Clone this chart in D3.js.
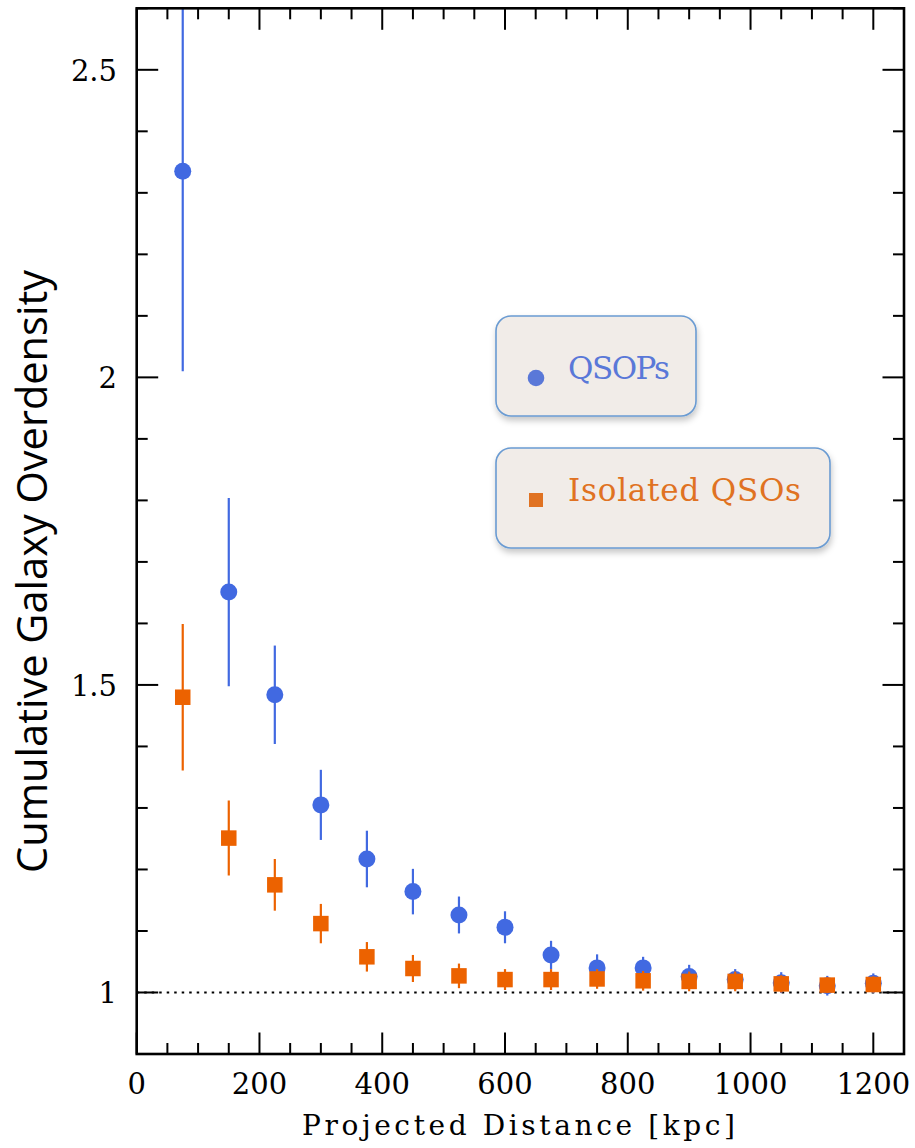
<!DOCTYPE html>
<html>
<head>
<meta charset="utf-8">
<script src="https://cdn.jsdelivr.net/npm/d3@7"></script>
<style>
  html, body { margin: 0; padding: 0; background: #ffffff; }
  svg { display: block; }
</style>
</head>
<body>
<svg id="chart" width="915" height="1148"></svg>
<script>
// Projected distance bins [kpc]
const distances = [75, 150, 225, 300, 375, 450, 525, 600, 675, 750, 825, 900, 975, 1050, 1125, 1200];

// Cumulative galaxy overdensity around quasar pairs and its 1-sigma error
const qsopValues = [2.335, 1.651, 1.484, 1.305, 1.217, 1.164, 1.126, 1.106, 1.061, 1.040, 1.040, 1.026, 1.021, 1.016, 1.011, 1.015];
const qsopErrors = [0.325, 0.153, 0.080, 0.057, 0.046, 0.037, 0.030, 0.026, 0.023, 0.022, 0.018, 0.019, 0.017, 0.017, 0.016, 0.016];

// Same quantity around isolated quasars
const isoValues = [1.480, 1.251, 1.175, 1.112, 1.058, 1.039, 1.027, 1.021, 1.021, 1.022, 1.019, 1.018, 1.018, 1.014, 1.012, 1.013];
const isoErrors = [0.119, 0.061, 0.042, 0.032, 0.024, 0.022, 0.020, 0.017, 0.017, 0.016, 0.016, 0.016, 0.016, 0.014, 0.013, 0.013];

// Axis ticks
const xMajorTicks = [0, 200, 400, 600, 800, 1000, 1200];
const xMinorTicks = d3.range(0, 1251, 50);
const yMajorTicks = [1, 1.5, 2, 2.5];
const yMinorTicks = d3.range(9, 27).map(d => d / 10);
const yTickLabels = ["1", "1.5", "2", "2.5"];

// Legend entries
const legendLabels = ["QSOPs", "Isolated QSOs"];

const blue = "#4169e1";
const orange = "#ec6200";

const svg = d3.select("#chart");
const W = 915, H = 1148;
const pLeft = 136.7, pRight = 904, pTop = 8.3, pBottom = 1054;

const x = d3.scaleLinear().domain([0, 1250]).range([pLeft, pRight]);
const y = d3.scaleLinear().domain([0.9, 2.6]).range([pBottom, pTop]);

svg.append("rect").attr("width", W).attr("height", H).attr("fill", "#fff");

const defs = svg.append("defs");
defs.append("clipPath").attr("id", "plot-clip")
  .append("rect").attr("x", pLeft).attr("y", pTop)
  .attr("width", pRight - pLeft).attr("height", pBottom - pTop);

const shadow = defs.append("filter").attr("id", "legend-shadow")
  .attr("x", "-20%").attr("y", "-20%").attr("width", "140%").attr("height", "150%");
shadow.append("feDropShadow")
  .attr("dx", 1).attr("dy", 4).attr("stdDeviation", 3)
  .attr("flood-color", "#000").attr("flood-opacity", 0.22);

// Reference line at unit overdensity
svg.append("line")
  .attr("x1", pLeft).attr("x2", pRight)
  .attr("y1", y(1)).attr("y2", y(1))
  .attr("stroke", "#000").attr("stroke-width", 2)
  .attr("stroke-dasharray", "2.5,5");

const plot = svg.append("g").attr("clip-path", "url(#plot-clip)");

const qsop = distances.map((d, i) => ({ x: d, v: qsopValues[i], e: qsopErrors[i] }));
const iso = distances.map((d, i) => ({ x: d, v: isoValues[i], e: isoErrors[i] }));

// QSOPs: error bars and filled circles
plot.append("g").selectAll("line").data(qsop).join("line")
  .attr("x1", d => x(d.x)).attr("x2", d => x(d.x))
  .attr("y1", d => y(d.v + d.e)).attr("y2", d => y(d.v - d.e))
  .attr("stroke", blue).attr("stroke-width", 2.2);
plot.append("g").selectAll("circle").data(qsop).join("circle")
  .attr("cx", d => x(d.x)).attr("cy", d => y(d.v)).attr("r", 8.5)
  .attr("fill", blue);

// Isolated QSOs: error bars and filled squares
plot.append("g").selectAll("line").data(iso).join("line")
  .attr("x1", d => x(d.x)).attr("x2", d => x(d.x))
  .attr("y1", d => y(d.v + d.e)).attr("y2", d => y(d.v - d.e))
  .attr("stroke", orange).attr("stroke-width", 2.2);
const sq = 15.5;
plot.append("g").selectAll("rect").data(iso).join("rect")
  .attr("x", d => x(d.x) - sq / 2).attr("y", d => y(d.v) - sq / 2)
  .attr("width", sq).attr("height", sq)
  .attr("fill", orange);

// Frame
svg.append("rect")
  .attr("x", pLeft).attr("y", pTop)
  .attr("width", pRight - pLeft).attr("height", pBottom - pTop)
  .attr("fill", "none").attr("stroke", "#000").attr("stroke-width", 2.6);

// Inward ticks on all four sides
const majLen = 21.5, minLen = 11;
const tg = svg.append("g").attr("stroke", "#000").attr("stroke-width", 2);
const isMajorX = v => xMajorTicks.includes(v);
const isMajorY = v => yMajorTicks.some(t => Math.abs(t - v) < 1e-9);

xMinorTicks.forEach(v => {
  const L = isMajorX(v) ? majLen : minLen;
  tg.append("line").attr("x1", x(v)).attr("x2", x(v)).attr("y1", pBottom).attr("y2", pBottom - L);
  tg.append("line").attr("x1", x(v)).attr("x2", x(v)).attr("y1", pTop).attr("y2", pTop + L);
});
yMinorTicks.forEach(v => {
  const L = isMajorY(v) ? majLen : minLen;
  tg.append("line").attr("x1", pLeft).attr("x2", pLeft + L).attr("y1", y(v)).attr("y2", y(v));
  tg.append("line").attr("x1", pRight).attr("x2", pRight - L).attr("y1", y(v)).attr("y2", y(v));
});

// Tick labels
const tickFont = "'DejaVu Serif', serif";
svg.append("g").selectAll("text").data(xMajorTicks).join("text")
  .attr("x", d => x(d)).attr("y", 1094)
  .attr("text-anchor", "middle")
  .attr("font-family", tickFont).attr("font-size", 29)
  .attr("fill", "#000")
  .text(d => d);

svg.append("g").selectAll("text").data(yMajorTicks).join("text")
  .attr("x", 117).attr("y", d => y(d) + 11)
  .attr("text-anchor", "end")
  .attr("font-family", tickFont).attr("font-size", 29)
  .attr("fill", "#000")
  .text((d, i) => yTickLabels[i]);

// Axis titles
svg.append("text")
  .attr("x", 302).attr("y", 1135)
  .attr("textLength", 433).attr("lengthAdjust", "spacing")
  .attr("font-family", tickFont).attr("font-size", 28)
  .attr("fill", "#000")
  .text("Projected Distance [kpc]");

svg.append("text")
  .attr("transform", "translate(47,873) rotate(-90)")
  .attr("x", 0).attr("y", 0)
  .attr("textLength", 603).attr("lengthAdjust", "spacingAndGlyphs")
  .attr("font-family", "'Open Sans', sans-serif").attr("font-size", 42)
  .attr("fill", "#000")
  .text("Cumulative Galaxy Overdensity");

// Legend boxes
const legendBoxes = [
  { x: 496, y: 316, w: 200, h: 100, label: legendLabels[0], color: "#5a78d8", shape: "circle", tx: 568, ty: 379, tl: 102 },
  { x: 496, y: 448, w: 334, h: 100, label: legendLabels[1], color: "#e07222", shape: "square", tx: 568, ty: 501, tl: 233 }
];
const lg = svg.append("g");
legendBoxes.forEach(b => {
  lg.append("rect")
    .attr("x", b.x).attr("y", b.y).attr("width", b.w).attr("height", b.h)
    .attr("rx", 15).attr("ry", 15)
    .attr("fill", "#f1ece8").attr("stroke", "#6a9bd2").attr("stroke-width", 1.6)
    .attr("filter", "url(#legend-shadow)");
  if (b.shape === "circle") {
    lg.append("circle").attr("cx", 536).attr("cy", 378).attr("r", 8.3).attr("fill", b.color);
  } else {
    lg.append("rect").attr("x", 529).attr("y", 493).attr("width", 14).attr("height", 14).attr("fill", b.color);
  }
  lg.append("text")
    .attr("x", b.tx).attr("y", b.ty)
    .attr("textLength", b.tl).attr("lengthAdjust", "spacing")
    .attr("font-family", tickFont).attr("font-size", 31)
    .attr("fill", b.color)
    .text(b.label);
});
</script>
</body>
</html>
